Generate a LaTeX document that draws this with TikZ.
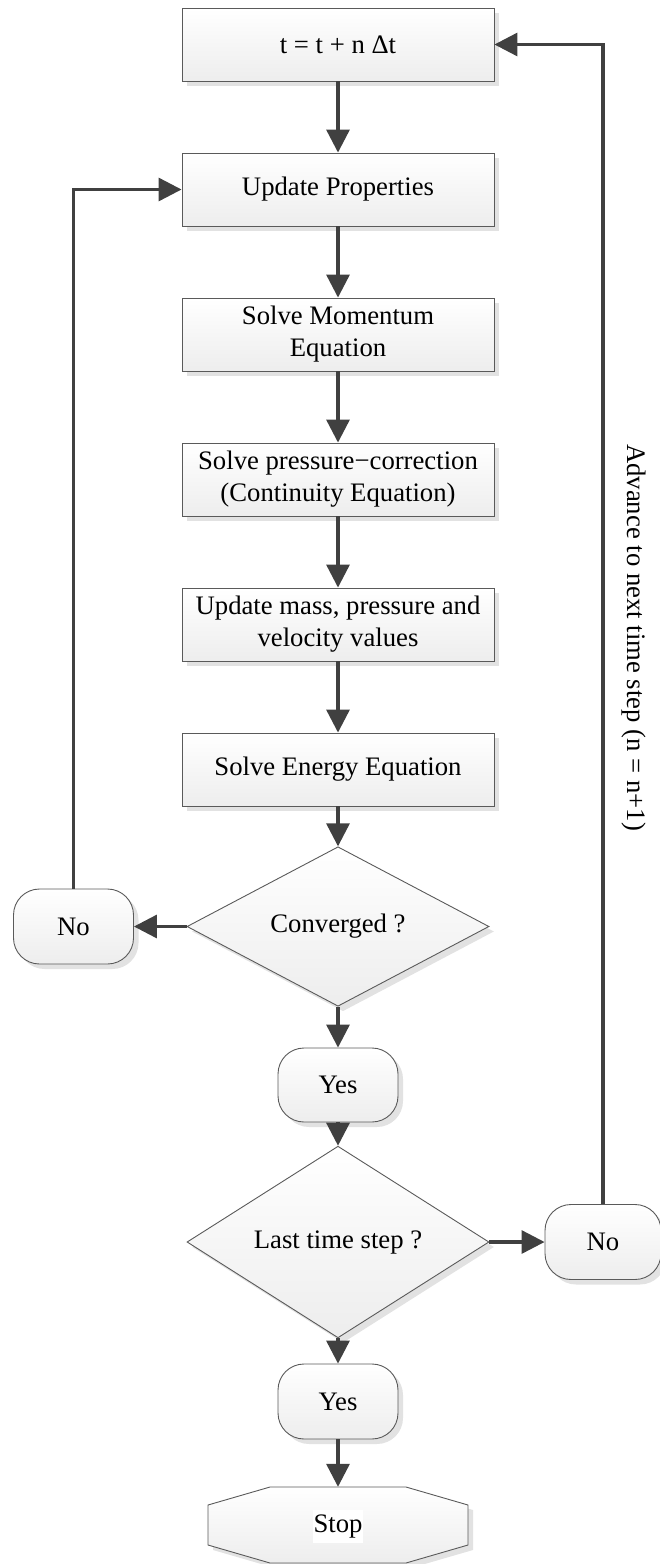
\documentclass[tikz,border=0pt]{standalone}
\usepackage{fontspec}
\setmainfont{Liberation Serif}
\usetikzlibrary{shapes.geometric,shadows,arrows.meta}
\definecolor{arr}{HTML}{404040}
\definecolor{bord}{HTML}{5A5A5A}
\definecolor{shad}{HTML}{E2E2E2}
\begin{document}
\begin{tikzpicture}[x=1pt,y=-1pt,
  txt/.style={font=\fontsize{26.7}{32}\selectfont, align=center},
  shp/.style={txt, draw=bord, line width=0.9pt, top color=white, bottom color=black!7,
    drop shadow={shadow xshift=5pt, shadow yshift=-5pt, fill=shad, opacity=1}, inner sep=0pt},
  proc/.style={shp, rectangle, minimum width=312pt, minimum height=73pt},
  term/.style={shp, rectangle, rounded corners=26pt, minimum width=120pt, minimum height=75pt},
  dec/.style={shp, diamond, minimum width=302pt, minimum height=143pt},
  flow/.style={draw=arr, line width=3.2pt, -{Triangle[length=23pt,width=23pt]}}
]
\useasboundingbox (0,0) rectangle (660,1564);

\node[proc] (t)    at (338,44.5)  {t = t + n Δt};
\node[proc] (up)   at (338,189.5) {Update Properties};
\node[proc] (mom)  at (338,334.5) {Solve Momentum\\Equation};
\node[proc] (cont) at (338,479.5) {Solve pressure−correction\\(Continuity Equation)};
\node[proc] (mass) at (338,624.5) {Update mass, pressure and\\velocity values};
\node[proc] (en)   at (338,769.5) {Solve Energy Equation};
\node[dec]  (conv) at (338,926.5) {Converged ?};
\node[term] (no1)  at (73.5,926.5) {No};
\node[term, minimum height=74pt] (yes1) at (338,1085) {Yes};
\node[dec]  (last) at (338,1242) {Last time step ?};
\node[term, minimum width=116pt] (no2) at (603,1242) {No};
\node[term] (yes2) at (338,1401.5) {Yes};

% Stop terminator (octagon)
\node[minimum width=260pt, minimum height=76pt, inner sep=0pt] (stop) at (338,1525) {};
\path[draw=bord, line width=0.9pt, top color=white, bottom color=black!7,
  drop shadow={shadow xshift=5pt, shadow yshift=-5pt, fill=shad, opacity=1}]
  (270,1487) -- (406,1487) -- (468,1505) -- (468,1545) -- (406,1563)
  -- (270,1563) -- (208,1545) -- (208,1505) -- cycle;
\node[txt, fill=white, inner xsep=0.5pt, inner ysep=0pt, minimum height=33pt] (stoptxt) at (338,1526.5) {Stop};

\node[txt, rotate=-90] (adv) at (634,637.5) {Advance to next time step (n = n+1)};

\draw[flow] (t) -- (up);
\draw[flow] (up) -- (mom);
\draw[flow] (mom) -- (cont);
\draw[flow] (cont) -- (mass);
\draw[flow] (mass) -- (en);
\draw[flow] (en) -- (conv);
\draw[flow] (conv) -- (no1);
\draw[flow] (no1.north) |- (up.west);
\draw[flow] (conv) -- (yes1);
\draw[flow] (yes1) -- (last);
\draw[flow] (last) -- (no2);
\draw[flow] (no2.north) |- (t.east);
\draw[flow] (last) -- (yes2);
\draw[flow] (yes2) -- (stop.north);
\end{tikzpicture}
\end{document}
